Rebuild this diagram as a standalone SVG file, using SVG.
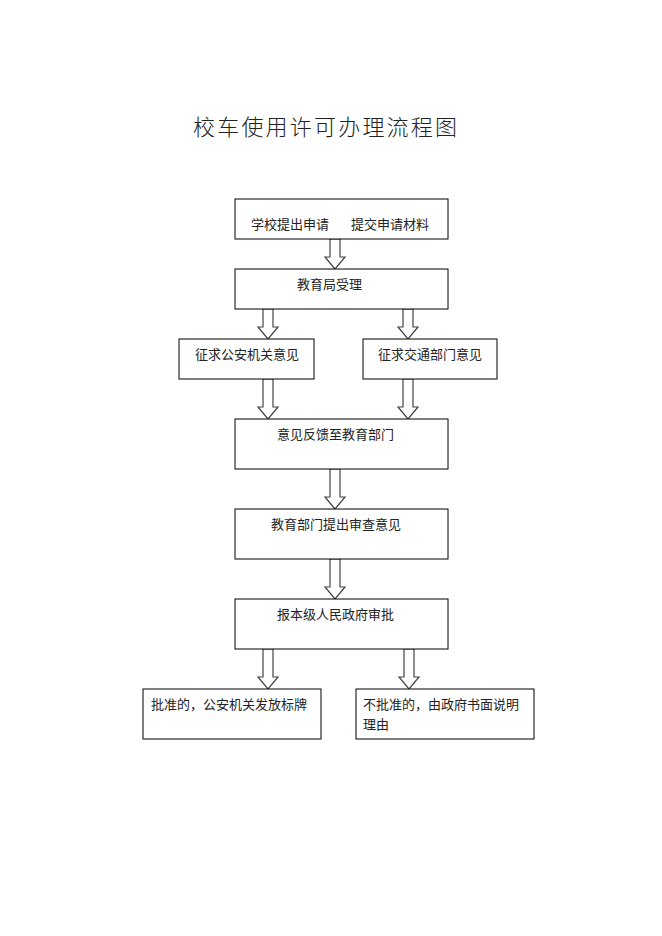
<svg xmlns="http://www.w3.org/2000/svg" width="662" height="936" viewBox="0 0 662 936">
<style>
.bg{fill:#ffffff}
.box{fill:#ffffff;stroke:#000000;stroke-width:1}
.t{font-family:"Liberation Serif","Noto Sans CJK SC",serif;font-size:13px;fill:#222222}
.title{font-family:"Liberation Serif","Noto Sans CJK SC",serif;font-size:22px;fill:#222222;letter-spacing:2.2px;font-weight:300}
.arr{fill:#ffffff;stroke:#444444;stroke-width:1.2;stroke-linejoin:miter}
</style>
<rect class="bg" x="0" y="0" width="662" height="936"/>
<text class="title" x="193" y="135">校车使用许可办理流程图</text>
<g id="connectors">
<polygon class="arr" points="330,239 340,239 340,257 345,257 335,269 325,257 330,257"/>
<polygon class="arr" points="263,309 273,309 273,327 278,327 268,339 258,327 263,327"/>
<polygon class="arr" points="403,309 413,309 413,327 418,327 408,339 398,327 403,327"/>
<polygon class="arr" points="263,379 273,379 273,407 278,407 268,419 258,407 263,407"/>
<polygon class="arr" points="403,379 413,379 413,407 418,407 408,419 398,407 403,407"/>
<polygon class="arr" points="330,469 340,469 340,497 345,497 335,509 325,497 330,497"/>
<polygon class="arr" points="330,559 340,559 340,587 345,587 335,599 325,587 330,587"/>
<polygon class="arr" points="263,649 273,649 273,677 278,677 268,689 258,677 263,677"/>
<polygon class="arr" points="404,649 414,649 414,677 419,677 409,689 399,677 404,677"/>
</g>
<g id="n1"><rect class="box" x="235" y="199" width="213" height="40"/><text class="t" y="229"><tspan x="251">学校提出申请</tspan><tspan x="351">提交申请材料</tspan></text></g>
<g id="n2"><rect class="box" x="235" y="269" width="213" height="40"/><text class="t" x="297" y="289">教育局受理</text></g>
<g id="n3"><rect class="box" x="179" y="339" width="135" height="40"/><text class="t" x="195" y="359">征求公安机关意见</text></g>
<g id="n4"><rect class="box" x="363" y="339" width="134" height="40"/><text class="t" x="378" y="359">征求交通部门意见</text></g>
<g id="n5"><rect class="box" x="235" y="419" width="213" height="50"/><text class="t" x="277" y="439">意见反馈至教育部门</text></g>
<g id="n6"><rect class="box" x="235" y="509" width="213" height="50"/><text class="t" x="271" y="529">教育部门提出审查意见</text></g>
<g id="n7"><rect class="box" x="235" y="599" width="213" height="50"/><text class="t" x="277" y="619">报本级人民政府审批</text></g>
<g id="n8"><rect class="box" x="143" y="689" width="178" height="50"/><text class="t" x="151" y="709">批准的，公安机关发放标牌</text></g>
<g id="n9"><rect class="box" x="356" y="689" width="178" height="50"/><text class="t" x="363" y="709">不批准的，由政府书面说明</text><text class="t" x="363" y="729">理由</text></g>
</svg>
